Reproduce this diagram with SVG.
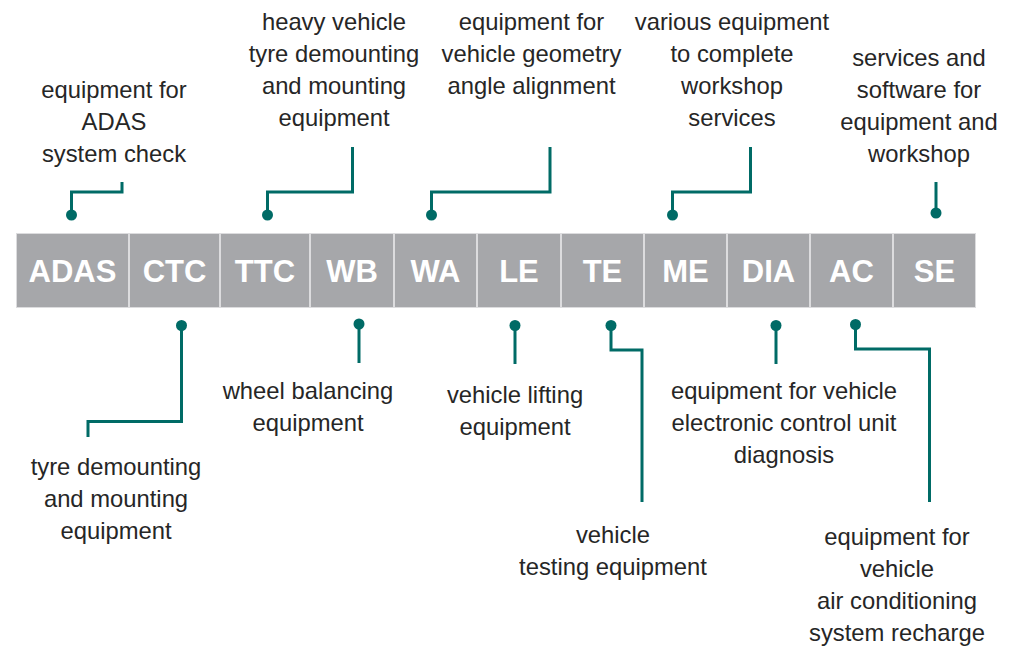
<svg xmlns="http://www.w3.org/2000/svg" width="1022" height="648" viewBox="0 0 1022 648">
  <style>
    .cell { fill: #a6a7aa; }
    .code { font-family: "Liberation Sans", Arial, sans-serif; font-weight: bold; font-size: 31px; fill: #ffffff; text-anchor: middle; }
    .lbl { font-family: "Liberation Sans", Arial, sans-serif; font-size: 23.8px; fill: #262626; text-anchor: middle; }
    .conn { fill: none; stroke: #006b66; stroke-width: 3; }
    .dot { fill: #006b66; }
  </style>
  <rect x="0" y="0" width="1022" height="648" fill="#ffffff"/>
  <rect x="16" y="233" width="960" height="75" fill="#dcdcde"/>

  <g id="ADAS">
    <rect class="cell" x="17" y="234" width="111" height="73"/>
    <text class="code" x="72.5" y="282">ADAS</text>
    <text class="lbl" x="114" y="98">equipment for</text>
    <text class="lbl" x="114" y="130">ADAS</text>
    <text class="lbl" x="114" y="162">system check</text>
  </g>
  <g id="CTC">
    <rect class="cell" x="130" y="234" width="89" height="73"/>
    <text class="code" x="174.5" y="282">CTC</text>
    <text class="lbl" x="116" y="475">tyre demounting</text>
    <text class="lbl" x="116" y="507">and mounting</text>
    <text class="lbl" x="116" y="539">equipment</text>
  </g>
  <g id="TTC">
    <rect class="cell" x="221" y="234" width="88" height="73"/>
    <text class="code" x="265" y="282">TTC</text>
    <text class="lbl" x="334" y="30">heavy vehicle</text>
    <text class="lbl" x="334" y="62">tyre demounting</text>
    <text class="lbl" x="334" y="94">and mounting</text>
    <text class="lbl" x="334" y="126">equipment</text>
  </g>
  <g id="WB">
    <rect class="cell" x="311" y="234" width="82" height="73"/>
    <text class="code" x="352" y="282">WB</text>
    <text class="lbl" x="308" y="399">wheel balancing</text>
    <text class="lbl" x="308" y="431">equipment</text>
  </g>
  <g id="WA">
    <rect class="cell" x="395" y="234" width="81" height="73"/>
    <text class="code" x="435.5" y="282">WA</text>
    <text class="lbl" x="531.5" y="30">equipment for</text>
    <text class="lbl" x="531.5" y="62">vehicle geometry</text>
    <text class="lbl" x="531.5" y="94">angle alignment</text>
  </g>
  <g id="LE">
    <rect class="cell" x="478" y="234" width="82" height="73"/>
    <text class="code" x="519" y="282">LE</text>
    <text class="lbl" x="515" y="403">vehicle lifting</text>
    <text class="lbl" x="515" y="435">equipment</text>
  </g>
  <g id="TE">
    <rect class="cell" x="562" y="234" width="81" height="73"/>
    <text class="code" x="602.5" y="282">TE</text>
    <text class="lbl" x="613" y="543">vehicle</text>
    <text class="lbl" x="613" y="575">testing equipment</text>
  </g>
  <g id="ME">
    <rect class="cell" x="645" y="234" width="81" height="73"/>
    <text class="code" x="685.5" y="282">ME</text>
    <text class="lbl" x="732" y="30">various equipment</text>
    <text class="lbl" x="732" y="62">to complete</text>
    <text class="lbl" x="732" y="94">workshop</text>
    <text class="lbl" x="732" y="126">services</text>
  </g>
  <g id="DIA">
    <rect class="cell" x="728" y="234" width="81" height="73"/>
    <text class="code" x="768.5" y="282">DIA</text>
    <text class="lbl" x="784" y="399">equipment for vehicle</text>
    <text class="lbl" x="784" y="431">electronic control unit</text>
    <text class="lbl" x="784" y="463">diagnosis</text>
  </g>
  <g id="AC">
    <rect class="cell" x="811" y="234" width="81" height="73"/>
    <text class="code" x="851.5" y="282">AC</text>
    <text class="lbl" x="897" y="545">equipment for</text>
    <text class="lbl" x="897" y="577">vehicle</text>
    <text class="lbl" x="897" y="609">air conditioning</text>
    <text class="lbl" x="897" y="641">system recharge</text>
  </g>
  <g id="SE">
    <rect class="cell" x="894" y="234" width="81" height="73"/>
    <text class="code" x="934.5" y="282">SE</text>
    <text class="lbl" x="919" y="66">services and</text>
    <text class="lbl" x="919" y="98">software for</text>
    <text class="lbl" x="919" y="130">equipment and</text>
    <text class="lbl" x="919" y="162">workshop</text>
  </g>

  <g id="connectors">
    <polyline class="conn" points="71.5,215 71.5,192 122,192 122,182"/>
    <circle class="dot" cx="71.5" cy="215" r="5.5"/>
    <polyline class="conn" points="267.5,215 267.5,192 352.5,192 352.5,147"/>
    <circle class="dot" cx="267.5" cy="215" r="5.5"/>
    <polyline class="conn" points="431.5,215 431.5,192 550,192 550,147"/>
    <circle class="dot" cx="431.5" cy="215" r="5.5"/>
    <polyline class="conn" points="672.5,215 672.5,192 750.5,192 750.5,147"/>
    <circle class="dot" cx="672.5" cy="215" r="5.5"/>
    <polyline class="conn" points="936,213 936,182"/>
    <circle class="dot" cx="936" cy="213" r="5.5"/>

    <polyline class="conn" points="181.5,325.5 181.5,421.5 88,421.5 88,437"/>
    <circle class="dot" cx="181.5" cy="325.5" r="5.5"/>
    <polyline class="conn" points="359,324 359,363"/>
    <circle class="dot" cx="359" cy="324" r="5.5"/>
    <polyline class="conn" points="515,325.5 515,364"/>
    <circle class="dot" cx="515" cy="325.5" r="5.5"/>
    <polyline class="conn" points="611,325.5 611,350 642,350 642,502"/>
    <circle class="dot" cx="611" cy="325.5" r="5.5"/>
    <polyline class="conn" points="776,325.5 776,364"/>
    <circle class="dot" cx="776" cy="325.5" r="5.5"/>
    <polyline class="conn" points="855.5,324.5 855.5,349 929.5,349 929.5,502"/>
    <circle class="dot" cx="855.5" cy="324.5" r="5.5"/>
  </g>
</svg>
